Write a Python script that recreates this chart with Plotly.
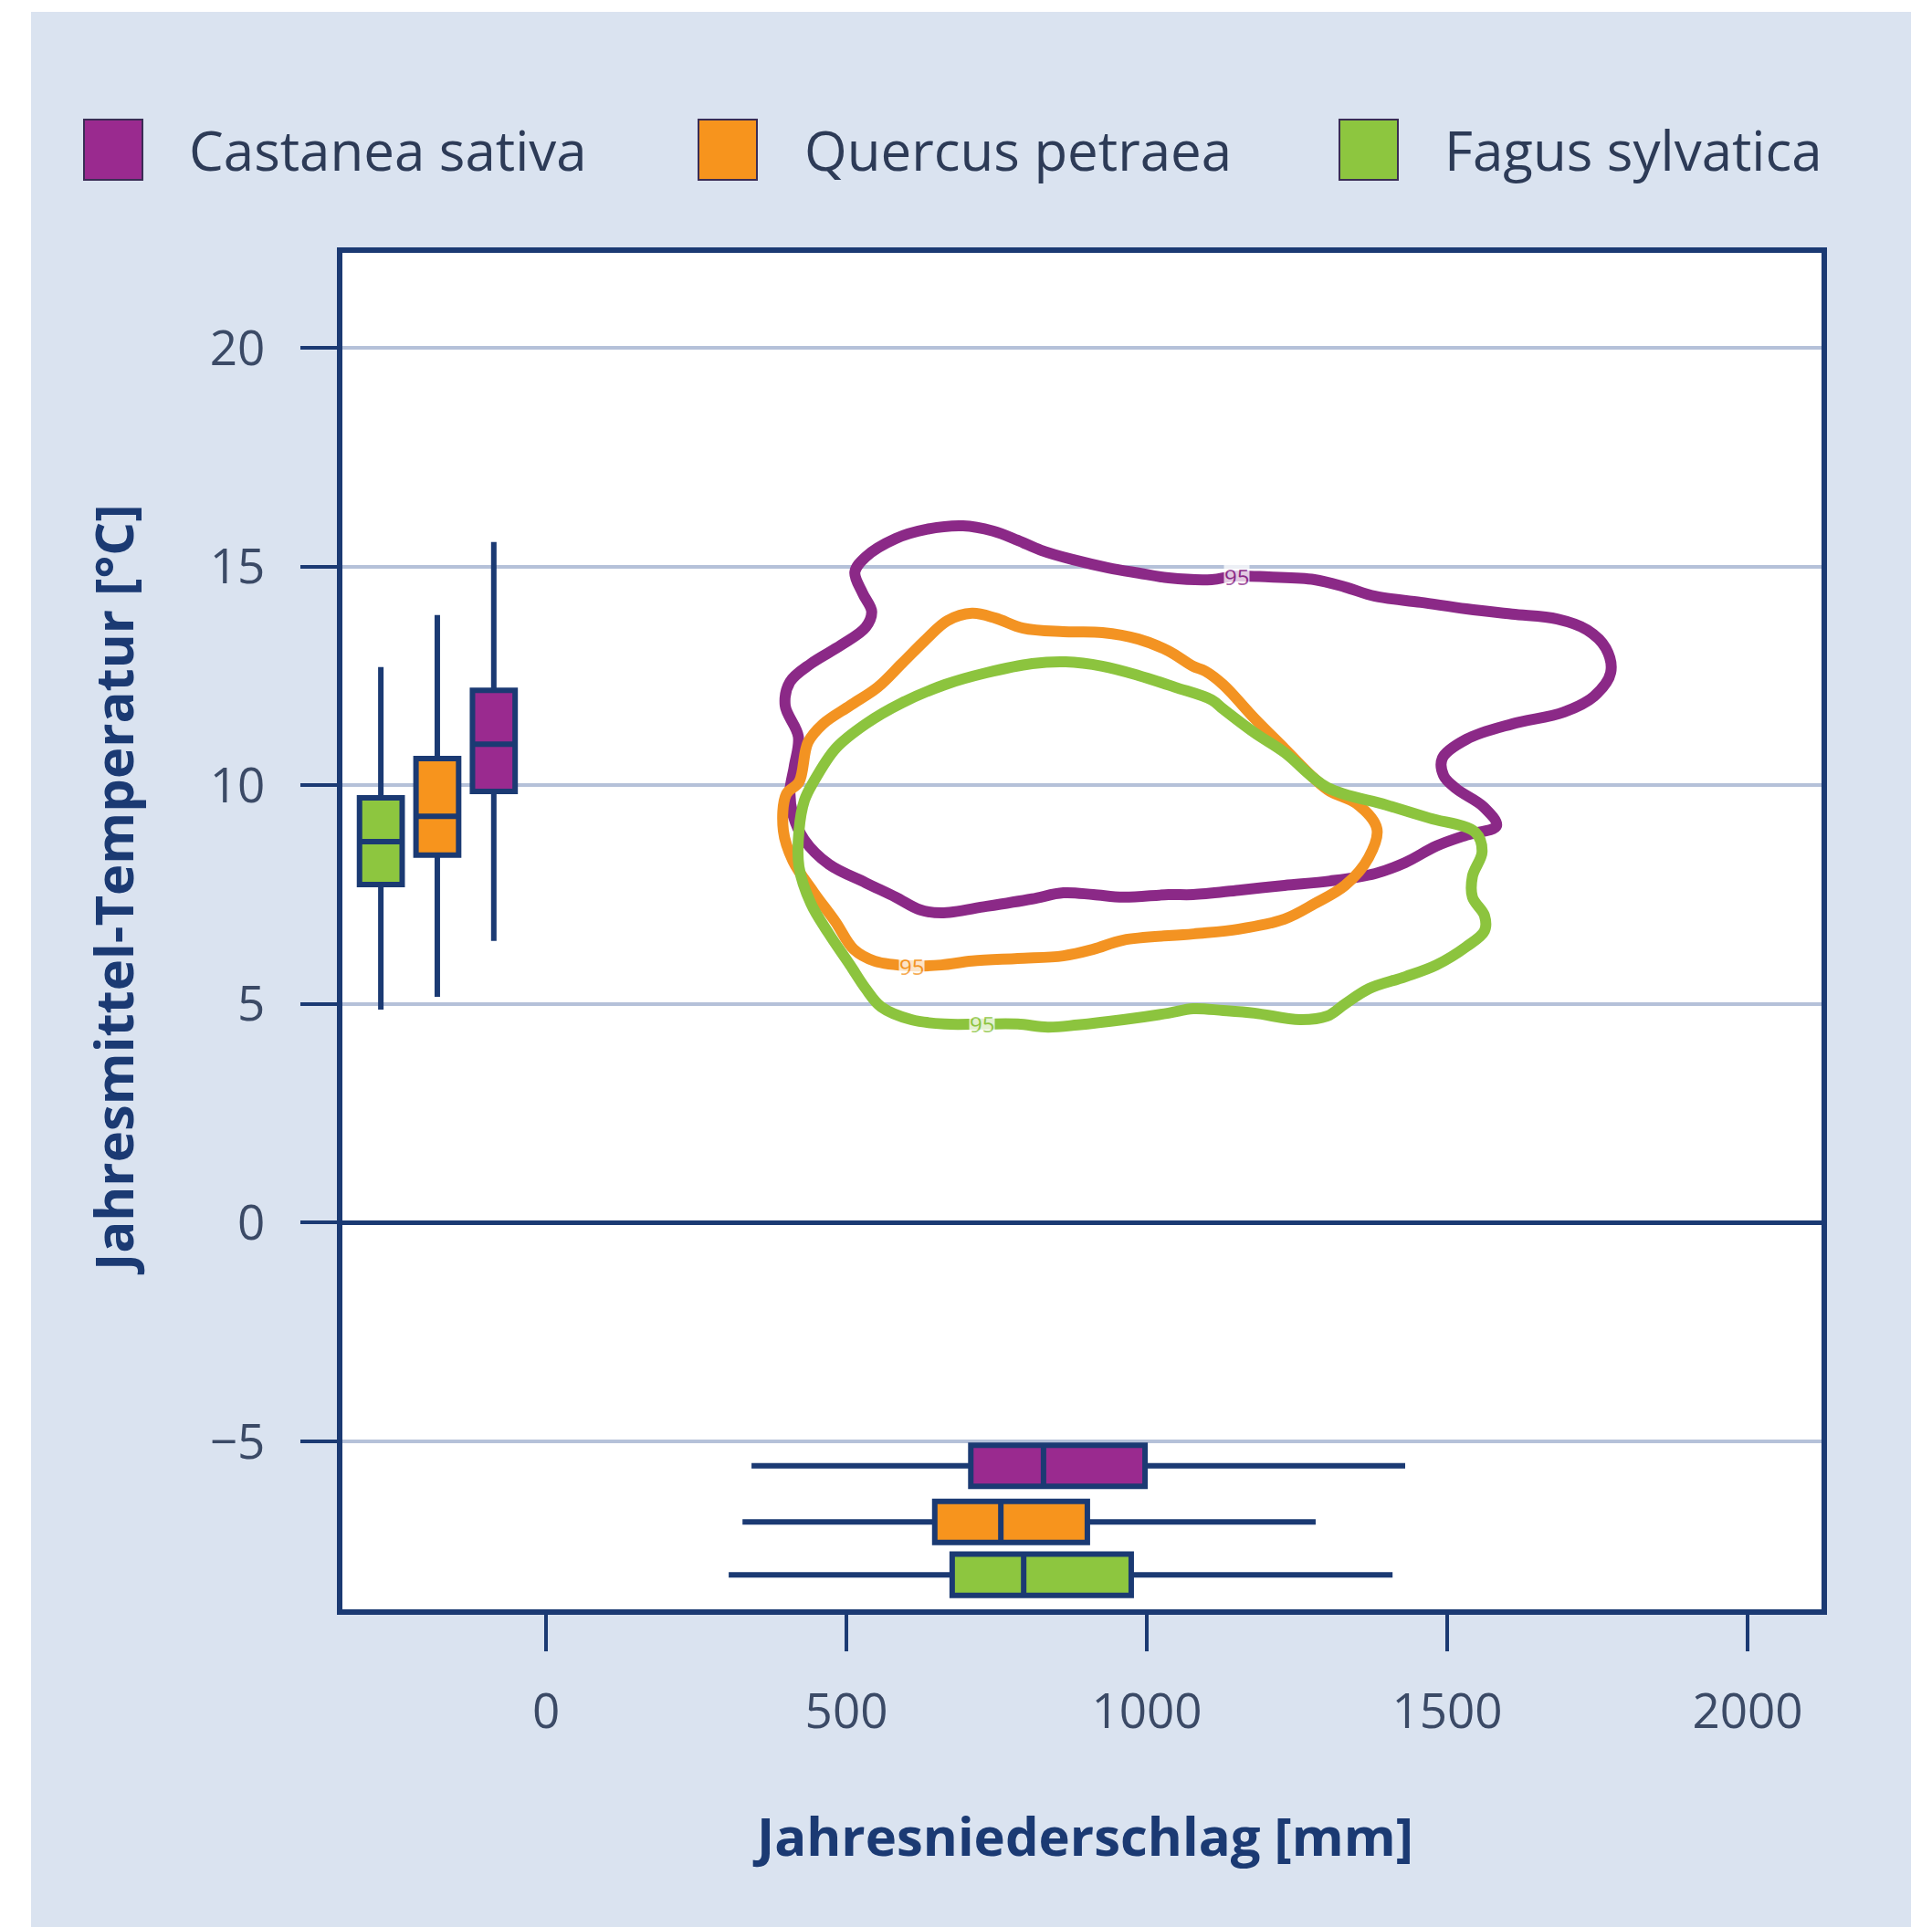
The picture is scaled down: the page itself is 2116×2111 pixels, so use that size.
import plotly.graph_objects as go

# ---------------- data ----------------
species = ["Castanea sativa", "Quercus petraea", "Fagus sylvatica"]
fill_colors = ["#9a2a8f", "#f7941d", "#8dc63f"]
line_colors = ["#8b2987", "#f39322", "#8cc43e"]

# annual mean temperature per species (vertical boxes, left side)
temp_pos = [-87, -181, -275]
temp_low = [6.44, 5.16, 4.87]
temp_q1 = [9.86, 8.40, 7.73]
temp_med = [10.94, 9.29, 8.71]
temp_q3 = [12.17, 10.61, 9.71]
temp_high = [15.56, 13.89, 12.70]

# annual precipitation per species (horizontal boxes, bottom)
prec_pos = [-5.56, -6.84, -8.05]
prec_low = [342, 327, 304]
prec_q1 = [707, 647, 676]
prec_med = [828, 757, 795]
prec_q3 = [997, 901, 974]
prec_high = [1430, 1281, 1409]

# 95 % density contours in the precipitation / temperature space
castanea_x = [420, 398, 406, 441, 491, 532, 542, 527, 514, 532, 582, 633, 694, 744, 785, 824, 876,
              936, 986, 1036, 1108, 1145, 1203, 1279, 1330, 1380, 1456, 1532, 1608, 1683, 1733,
              1764, 1772, 1744, 1694, 1608, 1532, 1492, 1494, 1515, 1561, 1582, 1532, 1482, 1430,
              1380, 1305, 1229, 1153, 1077, 1036, 961, 911, 861, 809, 733, 658, 623, 582, 532, 471,
              430, 411, 406, 413]
castanea_y = [11.11, 11.82, 12.36, 12.78, 13.20, 13.61, 13.97, 14.39, 14.87, 15.22, 15.64, 15.85,
              15.93, 15.81, 15.60, 15.37, 15.16, 14.97, 14.85, 14.74, 14.70, 14.78, 14.76, 14.70,
              14.53, 14.32, 14.18, 14.03, 13.91, 13.80, 13.55, 13.13, 12.57, 12.03, 11.67, 11.40,
              11.05, 10.62, 10.22, 9.92, 9.50, 9.07, 8.86, 8.61, 8.23, 7.98, 7.81, 7.71, 7.60, 7.50,
              7.50, 7.44, 7.50, 7.54, 7.40, 7.23, 7.08, 7.15, 7.44, 7.77, 8.19, 8.75, 9.32, 9.86,
              10.42]

quercus_x = [421, 436, 461, 506, 552, 592, 633, 668, 709, 748, 794, 861, 926, 986, 1036, 1077, 1097,
             1127, 1179, 1229, 1279, 1305, 1349, 1383, 1369, 1330, 1279, 1229, 1153, 1077, 961, 911,
             861, 785, 709, 658, 608, 547, 512, 482, 445, 411, 395, 400]
quercus_y = [10.07, 10.98, 11.40, 11.82, 12.24, 12.78, 13.34, 13.76, 13.93, 13.82, 13.59, 13.51,
             13.49, 13.34, 13.07, 12.72, 12.61, 12.30, 11.53, 10.84, 10.15, 9.86, 9.58, 9.00, 8.34,
             7.71, 7.29, 6.94, 6.71, 6.60, 6.46, 6.25, 6.10, 6.04, 5.98, 5.89, 5.87, 5.98, 6.25,
             6.87, 7.56, 8.27, 8.96, 9.80]

fagus_x = [445, 482, 532, 592, 664, 733, 809, 865, 926, 986, 1047, 1108, 1127, 1179, 1229, 1300,
           1398, 1470, 1547, 1558, 1542, 1542, 1562, 1562, 1532, 1482, 1430, 1370, 1330, 1300, 1255,
           1179, 1127, 1077, 1036, 961, 885, 835, 785, 726, 664, 608, 558, 532, 506, 471, 441, 421,
           421, 430]
fagus_y = [10.07, 10.84, 11.40, 11.88, 12.30, 12.57, 12.78, 12.82, 12.72, 12.51, 12.24, 11.95,
           11.74, 11.20, 10.75, 9.95, 9.55, 9.25, 8.92, 8.48, 7.92, 7.44, 7.02, 6.67, 6.31, 5.89,
           5.62, 5.35, 5.00, 4.72, 4.64, 4.79, 4.85, 4.89, 4.79, 4.64, 4.52, 4.47, 4.54, 4.54,
           4.54, 4.64, 4.93, 5.35, 5.89, 6.60, 7.29, 8.13, 8.96, 9.65]

contour_x = [castanea_x, quercus_x, fagus_x]
contour_y = [castanea_y, quercus_y, fagus_y]
contour_level = "95"
label_x = [1150, 608, 726]
label_y = [14.77, 5.87, 4.54]

x_ticks = [0, 500, 1000, 1500, 2000]
y_ticks = [-5, 0, 5, 10, 15, 20]

# ---------------- styling ----------------
W, H = 2116, 2111
L, R, T, B = 375, 1995, 277, 1763          # plot area in pixels
NAVY = "#1b3a73"
GRID = "#b5c1d9"
BG = "#dae3f0"
FONT = "Open Sans"


def xp(px):
    return (px - L) / (R - L)


def yp(py):
    return (B - py) / (B - T)


fig = go.Figure()

# contours
for i in range(3):
    xs = contour_x[i] + contour_x[i][:1]
    ys = contour_y[i] + contour_y[i][:1]
    fig.add_trace(go.Scatter(
        x=xs, y=ys, mode="lines",
        line=dict(color=line_colors[i], width=12, shape="spline", smoothing=1.0),
        showlegend=False, hoverinfo="skip"))

# temperature boxes (vertical)
for i in range(3):
    fig.add_trace(go.Box(
        x=[temp_pos[i]], q1=[temp_q1[i]], median=[temp_med[i]], q3=[temp_q3[i]],
        lowerfence=[temp_low[i]], upperfence=[temp_high[i]],
        width=71, whiskerwidth=0, boxpoints=False,
        fillcolor=fill_colors[i], line=dict(color=NAVY, width=6),
        showlegend=False, name=species[i]))

# precipitation boxes (horizontal)
for i in range(3):
    fig.add_trace(go.Box(
        y=[prec_pos[i]], q1=[prec_q1[i]], median=[prec_med[i]], q3=[prec_q3[i]],
        lowerfence=[prec_low[i]], upperfence=[prec_high[i]], orientation="h",
        width=0.94, whiskerwidth=0, boxpoints=False,
        fillcolor=fill_colors[i], line=dict(color=NAVY, width=6),
        showlegend=False, name=species[i]))

annotations = []
shapes = []

# contour level labels
for i in range(3):
    annotations.append(dict(
        x=label_x[i], y=label_y[i], xref="x", yref="y", text=contour_level,
        showarrow=False, font=dict(family=FONT, size=24, color=line_colors[i]),
        bgcolor="white", borderpad=0, opacity=0.75))

# white frame around the light-blue panel
shapes += [
    dict(type="rect", xref="paper", yref="paper", x0=xp(0), x1=xp(34), y0=yp(W), y1=yp(0),
         fillcolor="white", line=dict(width=0), layer="below"),
    dict(type="rect", xref="paper", yref="paper", x0=xp(0), x1=xp(W), y0=yp(13), y1=yp(0),
         fillcolor="white", line=dict(width=0), layer="below"),
    dict(type="rect", xref="paper", yref="paper", x0=xp(2093), x1=xp(W), y0=yp(H), y1=yp(0),
         fillcolor="white", line=dict(width=0), layer="below"),
]

# legend row
legend_sq = [92, 765, 1467]
legend_tx = [205, 879, 1580]
for i in range(3):
    shapes.append(dict(type="rect", xref="paper", yref="paper",
                       x0=xp(legend_sq[i]), x1=xp(legend_sq[i] + 64), y0=yp(197), y1=yp(131),
                       fillcolor=fill_colors[i], line=dict(color="#3a2d55", width=2)))
    annotations.append(dict(
        x=xp(legend_tx[i]), y=yp(164), xref="paper", yref="paper", text=species[i],
        xanchor="left", yanchor="middle", showarrow=False,
        font=dict(family=FONT, size=60, color="#2d3b57")))

# axis titles
annotations.append(dict(
    x=xp(1186), y=yp(2010), xref="paper", yref="paper", text="Jahresniederschlag [mm]",
    showarrow=False, xanchor="center", yanchor="middle",
    font=dict(family=FONT, size=58, color=NAVY, weight="bold")))
annotations.append(dict(
    x=xp(123), y=yp(975), xref="paper", yref="paper", text="Jahresmittel-Temperatur [°C]",
    showarrow=False, xanchor="center", yanchor="middle", textangle=-90,
    font=dict(family=FONT, size=58, color=NAVY, weight="bold")))

fig.update_layout(
    width=W, height=H,
    margin=dict(l=L, r=W - R, t=T, b=H - B, pad=0),
    paper_bgcolor=BG, plot_bgcolor="white",
    boxmode="overlay", showlegend=False,
    font=dict(family=FONT, color="#3b4a66"),
    shapes=shapes, annotations=annotations,
)

fig.update_xaxes(
    range=[-339, 2123], tickvals=x_ticks, ticktext=[str(v) for v in x_ticks],
    ticks="outside", ticklen=40, tickwidth=4, tickcolor=NAVY,
    showgrid=False, zeroline=False,
    showline=True, linecolor=NAVY, linewidth=6, mirror=True,
    tickfont=dict(family=FONT, size=53, color="#3b4a66"), ticklabelstandoff=20,
)
fig.update_yaxes(
    range=[-8.84, 22.17], tickvals=y_ticks, ticktext=[("\u2212" + str(-v)) if v < 0 else str(v) for v in y_ticks],
    ticks="outside", ticklen=40, tickwidth=4, tickcolor=NAVY,
    showgrid=True, gridcolor=GRID, gridwidth=4,
    zeroline=True, zerolinecolor=NAVY, zerolinewidth=5,
    showline=True, linecolor=NAVY, linewidth=6, mirror=True,
    tickfont=dict(family=FONT, size=53, color="#3b4a66"), ticklabelstandoff=28,
)

fig.write_html("out.html")
